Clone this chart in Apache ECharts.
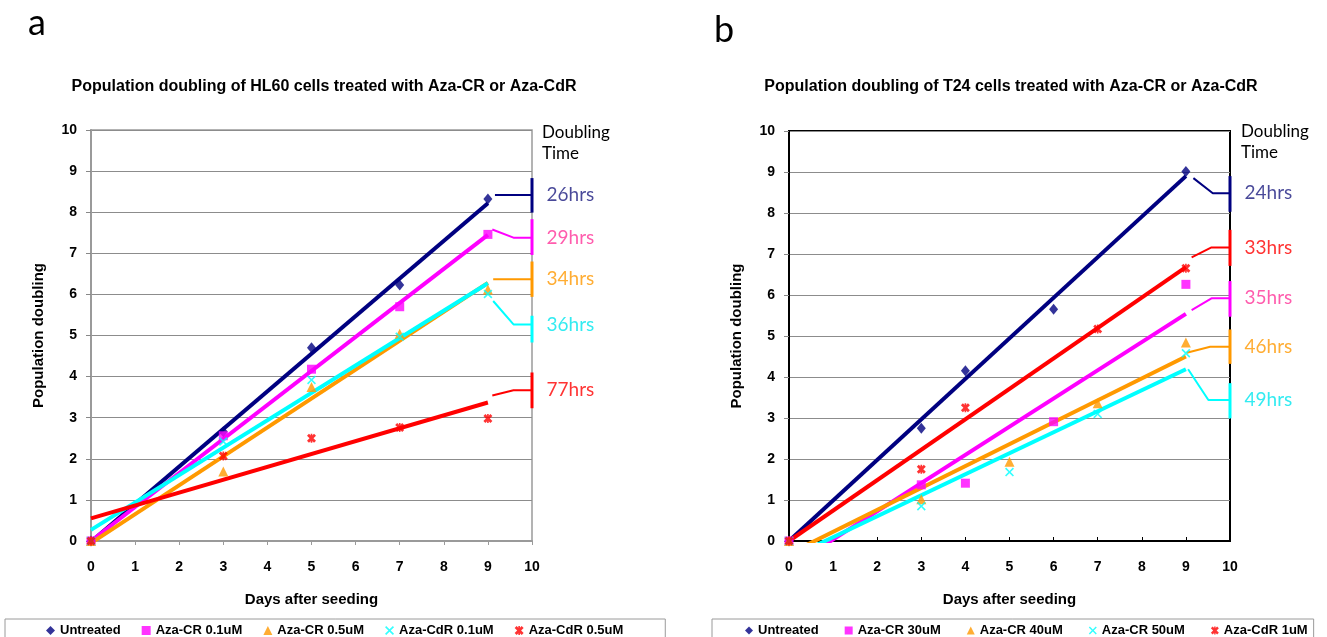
<!DOCTYPE html>
<html><head><meta charset="utf-8">
<script src="https://cdn.jsdelivr.net/npm/echarts@6/dist/echarts.min.js"></script>
<style>html,body{margin:0;padding:0;background:#fff}#c{width:1327px;height:637px}</style>
</head><body><div id="c"></div>
<script>
// ---------------- DATA ----------------
// Panel a: HL60
const hlDays = [0, 3, 5, 7, 9];
const hlUntreated = [0, 2.66, 4.70, 6.23, 8.32];
const hlCr01 = [0, 2.56, 4.18, 5.70, 7.46];
const hlCr05 = [0, 1.69, 3.75, 5.04, 6.12];
const hlCdr01 = [0, 2.42, 3.92, 4.97, 6.01];
const hlCdr05 = [0, 2.07, 2.50, 2.76, 2.98];
const trendX = [0, 9];
const hlTrendUntreated = [-0.02, 8.22];
const hlTrendCr01 = [0.0, 7.45];
const hlTrendCr05 = [-0.05, 6.28];
const hlTrendCdr01 = [0.27, 6.27];
const hlTrendCdr05 = [0.55, 3.37];
const hlNames = ['Untreated', 'Aza-CR 0.1uM', 'Aza-CR 0.5uM', 'Aza-CdR 0.1uM', 'Aza-CdR 0.5uM'];
const hlDoubling = ['26hrs', '29hrs', '34hrs', '36hrs', '77hrs'];
const hlCallouts = [
  [[9.16, 8.42], [10, 8.42]],
  [[9.10, 7.58], [9.58, 7.38], [10, 7.38]],
  [[9.12, 6.37], [10, 6.37]],
  [[9.12, 5.84], [9.58, 5.27], [10, 5.27]],
  [[9.10, 3.54], [9.58, 3.67], [10, 3.67]]
];
const hlBrackets = [[8.83, 7.99], [7.83, 6.96], [6.80, 5.94], [5.48, 4.83], [4.10, 3.23]];
const hlUnderlines = [[[10.33, 6.08], [11.53, 6.08]], [[10.33, 4.99], [11.53, 4.99]]];

// Panel b: T24
const t24DaysUntreated = [0, 3, 4, 6, 9];
const t24DaysCr30 = [0, 3, 4, 6, 9];
const t24DaysCr40 = [0, 3, 5, 7, 9];
const t24DaysCr50 = [0, 3, 5, 7, 9];
const t24DaysCdr1 = [0, 3, 4, 7, 9];
const t24Untreated = [0, 2.75, 4.15, 5.65, 9.01];
const t24Cr30 = [0, 1.37, 1.41, 2.91, 6.26];
const t24Cr40 = [0, 1.02, 1.93, 3.36, 4.84];
const t24Cr50 = [0, 0.85, 1.68, 3.10, 4.58];
const t24Cdr1 = [0, 1.75, 3.25, 5.17, 6.65];
const t24TrendUntreated = [0, 8.90];
const t24TrendCr30 = [-0.65, 5.54];
const t24TrendCr40 = [-0.31, 4.50];
const t24TrendCr50 = [-0.42, 4.19];
const t24TrendCdr1 = [0, 6.68];
const t24Names = ['Untreated', 'Aza-CR 30uM', 'Aza-CR 40uM', 'Aza-CR 50uM', 'Aza-CdR 1uM'];
const t24Doubling = ['24hrs', '35hrs', '46hrs', '49hrs', '33hrs'];
const t24Callouts = [
  [[9.17, 8.85], [9.61, 8.48], [10, 8.48]],
  [[9.13, 5.63], [9.58, 5.92], [10, 5.92]],
  [[9.02, 4.59], [9.55, 4.74], [10, 4.74]],
  [[9.05, 4.19], [9.51, 3.44], [10, 3.44]],
  [[9.13, 6.92], [9.58, 7.16], [10, 7.16]]
];
const t24Brackets = [[8.90, 8.03], [6.34, 5.47], [5.16, 4.32], [3.85, 2.99], [7.59, 6.71]];
const t24Underlines = [[[10.34, 6.87], [11.54, 6.87]], [[10.29, 5.62], [11.51, 5.62]]];

const xTicks = [0,1,2,3,4,5,6,7,8,9,10];

// ---------------- STYLE ----------------
const SANS = 'Liberation Sans, Arial, sans-serif';
const HUM = 'Lato, Open Sans, sans-serif';
const colors = ['#000080', '#ff00ff', '#ff9900', '#00ffff', '#ff0000'];
const labelColors = ['#1c1c80', '#ff3399', '#ff9900', '#00e6ee', '#ff0000'];
const X_THIN = 'path://M0,1.3L1.3,0L5,3.7L8.7,0L10,1.3L6.3,5L10,8.7L8.7,10L5,6.3L1.3,10L0,8.7L3.7,5Z';
const X_STAR = 'path://M0,2.2L2.2,0L5,2.8L7.8,0L10,2.2L7.2,5L10,7.8L7.8,10L5,7.2L2.2,10L0,7.8L2.8,5Z M4.1,0L5.9,0L5.9,10L4.1,10Z';
const symbols = ['diamond', 'rect', 'triangle', X_THIN, X_STAR];
const symSizes = [[9, 11], 9, 10, 9, 9];

function pairs(xs, ys) { return xs.map((x, i) => [x, ys[i]]); }

function buildSeries(gi, names, daysList, valsList, trendList, callouts, brackets, doubling, underlines) {
  const s = [];
  for (let k = 0; k < names.length; k++) {
    s.push({ type: 'line', xAxisIndex: gi, yAxisIndex: gi, data: pairs(trendX, trendList[k]),
      symbol: 'none', lineStyle: { color: colors[k], width: 4 }, z: 3, silent: true, name: 'trend' + gi + k });
  }
  for (let k = 0; k < names.length; k++) {
    s.push({ type: 'scatter', name: names[k], xAxisIndex: gi, yAxisIndex: gi, data: pairs(daysList[k], valsList[k]),
      symbol: symbols[k], symbolSize: symSizes[k], itemStyle: { color: colors[k] }, z: 4, silent: true });
  }
  for (let k = 0; k < callouts.length; k++) {
    s.push({ type: 'line', xAxisIndex: gi, yAxisIndex: gi, data: callouts[k], symbol: 'none', clip: false,
      lineStyle: { color: colors[k], width: 2 }, z: 3, silent: true, name: 'call' + gi + k });
    s.push({ type: 'line', xAxisIndex: gi, yAxisIndex: gi, data: [[10, brackets[k][0]], [10, brackets[k][1]]], symbol: 'none', clip: false,
      lineStyle: { color: colors[k], width: 3 }, z: 3, silent: true, name: 'brk' + gi + k });
  }
  s.push({ type: 'scatter', xAxisIndex: gi, yAxisIndex: gi, clip: false, symbolSize: 1, silent: true, name: 'lbl' + gi,
    itemStyle: { color: 'rgba(0,0,0,0)' }, z: 5,
    data: callouts.map((pts, k) => ({ value: pts[pts.length - 1],
      label: { show: true, position: 'right', distance: 14, formatter: doubling[k], color: labelColors[k],
        fontFamily: HUM, fontSize: 19 } })) });
  underlines.forEach((u, k) => s.push({ type: 'line', xAxisIndex: gi, yAxisIndex: gi, data: u, symbol: 'none', clip: false,
    lineStyle: { color: '#000', width: 3 }, silent: true, name: 'ul' + gi + k }));
  return s;
}

function xAxisCfg(gi, col, inside) {
  return { type: 'value', gridIndex: gi, min: 0, max: 10, interval: 1,
    name: 'Days after seeding', nameLocation: 'middle', nameGap: 51,
    nameTextStyle: { fontFamily: SANS, fontWeight: 'bold', fontSize: 15, color: '#000' },
    axisLine: { show: true, onZero: false, lineStyle: { color: col, width: 2 } },
    axisTick: { show: true, inside: inside, length: 4, lineStyle: { color: col, width: 1 } },
    axisLabel: { margin: 19, fontFamily: SANS, fontWeight: 'bold', fontSize: 14, color: '#000',
      formatter: v => String(xTicks[v]) },
    splitLine: { show: false } };
}
function yAxisCfg(gi, col) {
  return { type: 'value', gridIndex: gi, min: 0, max: 10, interval: 1,
    name: 'Population doubling', nameLocation: 'middle', nameGap: 45,
    nameTextStyle: { fontFamily: SANS, fontWeight: 'bold', fontSize: 15, color: '#000' },
    axisLine: { show: true, onZero: false, lineStyle: { color: col, width: 2 } },
    axisTick: { show: true, inside: false, length: 5, lineStyle: { color: '#888', width: 1 } },
    axisLabel: { margin: 14, fontFamily: SANS, fontWeight: 'bold', fontSize: 14, color: '#000' },
    splitLine: { show: true, lineStyle: { color: '#8c8c8c', width: 1 } } };
}

const legendText = { fontFamily: SANS, fontWeight: 'bold', fontSize: 13, color: '#000' };

const option = {
  animation: false,
  backgroundColor: '#fff',
  grid: [
    { left: 91, top: 130, width: 441, height: 411, show: true, borderColor: '#9a9a9a', borderWidth: 1.5 },
    { left: 789, top: 131, width: 441, height: 410, show: true, borderColor: '#000', borderWidth: 2 }
  ],
  xAxis: [xAxisCfg(0, '#9a9a9a', false), xAxisCfg(1, '#000', true)],
  yAxis: [yAxisCfg(0, '#9a9a9a'), yAxisCfg(1, '#000')],
  legend: [
    { data: hlNames, left: 5, top: 619, itemWidth: 9, itemHeight: 9, itemGap: 21,
      borderColor: '#9a9a9a', borderWidth: 1, padding: [5, 42, 12, 41], textStyle: legendText, selectedMode: false },
    { data: t24Names, left: 712, top: 619, width: 612, itemWidth: 8, itemHeight: 8, itemGap: 26,
      borderColor: '#9a9a9a', borderWidth: 1, padding: [5, 6, 12, 33], textStyle: legendText, selectedMode: false }
  ],
  graphic: [
    { type: 'text', left: 28, top: 5, style: { text: 'a', font: '36px ' + HUM, fill: '#000' } },
    { type: 'text', left: 714, top: 12, style: { text: 'b', font: '36px ' + HUM, fill: '#000' } },
    { type: 'text', x: 324, y: 87, style: { text: 'Population doubling of HL60 cells treated with Aza-CR or Aza-CdR',
      font: 'bold 16px ' + SANS, fill: '#000', textAlign: 'center', textVerticalAlign: 'middle' } },
    { type: 'text', x: 1011, y: 87, style: { text: 'Population doubling of T24 cells treated with Aza-CR or Aza-CdR',
      font: 'bold 16px ' + SANS, fill: '#000', textAlign: 'center', textVerticalAlign: 'middle' } },
    { type: 'text', x: 542, y: 122, style: { text: 'Doubling\nTime', font: '17px ' + HUM, lineHeight: 21, fill: '#000' } },
    { type: 'text', x: 1241, y: 121, style: { text: 'Doubling\nTime', font: '17px ' + HUM, lineHeight: 21, fill: '#000' } }
  ],
  series: [].concat(
    buildSeries(0, hlNames, [hlDays, hlDays, hlDays, hlDays, hlDays],
      [hlUntreated, hlCr01, hlCr05, hlCdr01, hlCdr05],
      [hlTrendUntreated, hlTrendCr01, hlTrendCr05, hlTrendCdr01, hlTrendCdr05],
      hlCallouts, hlBrackets, hlDoubling, hlUnderlines),
    buildSeries(1, t24Names, [t24DaysUntreated, t24DaysCr30, t24DaysCr40, t24DaysCr50, t24DaysCdr1],
      [t24Untreated, t24Cr30, t24Cr40, t24Cr50, t24Cdr1],
      [t24TrendUntreated, t24TrendCr30, t24TrendCr40, t24TrendCr50, t24TrendCdr1],
      t24Callouts, t24Brackets, t24Doubling, t24Underlines)
  )
};
const chart = echarts.init(document.getElementById('c'));
chart.setOption(option);
</script></body></html>
